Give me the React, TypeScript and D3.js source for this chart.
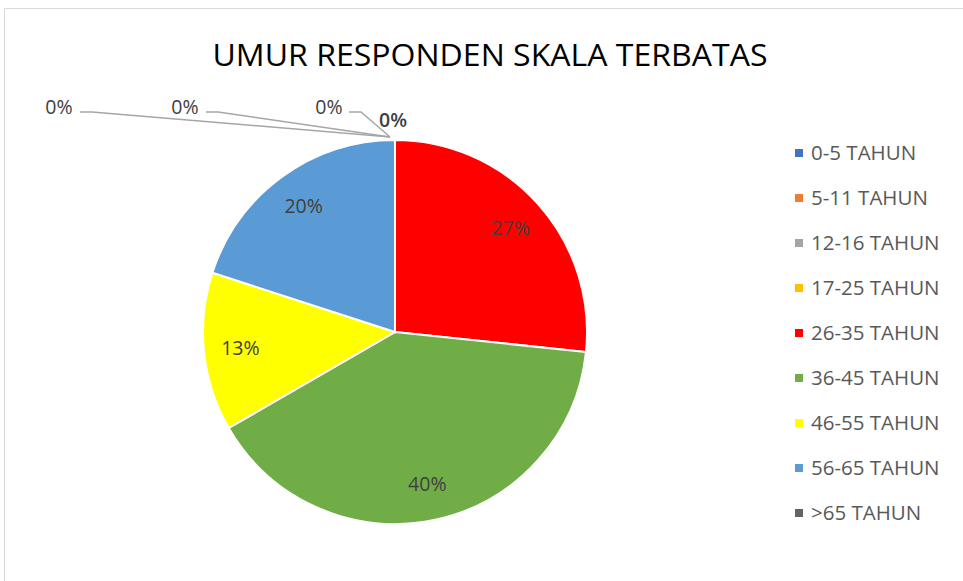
import * as d3 from 'd3';

const categories = ['0-5 TAHUN', '5-11 TAHUN', '12-16 TAHUN', '17-25 TAHUN', '26-35 TAHUN', '36-45 TAHUN', '46-55 TAHUN', '56-65 TAHUN', '>65 TAHUN'];
const counts = [0, 0, 0, 0, 4, 6, 2, 3, 0];
const colors = ['#4472C4', '#ED7D31', '#A5A5A5', '#FFC000', '#FF0000', '#70AD47', '#FFFF00', '#5B9BD5', '#636363'];

// callouts for the zero slices (label anchor, elbow)
const zeroCallouts: Record<number, { x: number; y: number; elbow?: number; bold?: boolean }> = {
  0: { x: 59, y: 107, elbow: 80 },
  1: { x: 185, y: 107, elbow: 206 },
  2: { x: 329, y: 107, elbow: 349 },
  8: { x: 393, y: 120, bold: true },
};

const W = 963;
const H = 581;
const cx = 395;
const cy = 332;
const R = 192;
const FONT = '"Open Sans", "Noto Sans", sans-serif';

export default function App() {
  const total = d3.sum(counts);
  const pie = d3.pie<number>().sort(null).value(d => d)(counts);
  const arc = d3.arc<d3.PieArcDatum<number>>().innerRadius(0).outerRadius(R);
  const labelArc = d3.arc<d3.PieArcDatum<number>>().innerRadius(R * 0.81).outerRadius(R * 0.81);
  const pct = d3.format('.0%');

  return (
    <svg width={W} height={H} style={{ position: 'absolute', left: 0, top: 0, background: '#fff' }}>
      <path d={`M4.5,${H} V8.5 H${W}`} fill="none" stroke="#d9d9d9" strokeWidth={1} />
      <text x={490} y={66} textAnchor="middle" fontFamily={FONT} fontSize={31} fill="#000" textLength={555} lengthAdjust="spacingAndGlyphs">
        UMUR RESPONDEN SKALA TERBATAS
      </text>
      <g transform={`translate(${cx},${cy})`}>
        {pie.map((d, i) => (
          <path key={i} d={arc(d) || ''} fill={colors[i]} stroke="#fff" strokeWidth={2} />
        ))}
        {pie.map((d, i) => {
          if (d.value === 0) return null;
          const [lx, ly] = labelArc.centroid(d);
          return (
            <text key={i} x={lx} y={ly} dy="0.35em" textAnchor="middle" fontFamily={FONT} fontSize={19.5} fill="#404040">
              {pct(d.value / total)}
            </text>
          );
        })}
      </g>
      {pie.map((d, i) => {
        if (d.value !== 0 || !zeroCallouts[i]) return null;
        const c = zeroCallouts[i];
        const a = d.startAngle;
        const px = cx + Math.sin(a) * (R + 2) - 5;
        const py = cy - Math.cos(a) * (R + 2) - 1;
        return (
          <g key={i}>
            {c.elbow !== undefined && (
              <polyline
                points={`${c.elbow},${c.y + 5} ${c.elbow + 12},${c.y + 5} ${px},${py}`}
                fill="none"
                stroke="#a6a6a6"
                strokeWidth={1.5}
              />
            )}
            <text x={c.x} y={c.y} dy="0.35em" textAnchor="middle" fontFamily={FONT} fontSize={19.5} fontWeight={c.bold ? 600 : 400} fill="#404040">
              {pct(d.value / total)}
            </text>
          </g>
        );
      })}
      <g>
        {categories.map((c, i) => (
          <g key={c} transform={`translate(795,${153 + i * 45})`}>
            <rect x={0} y={-4} width={8} height={8} fill={colors[i]} />
            <text x={16} y={0} dy="0.35em" fontFamily={FONT} fontSize={20.5} fill="#595959">
              {c}
            </text>
          </g>
        ))}
      </g>
    </svg>
  );
}
